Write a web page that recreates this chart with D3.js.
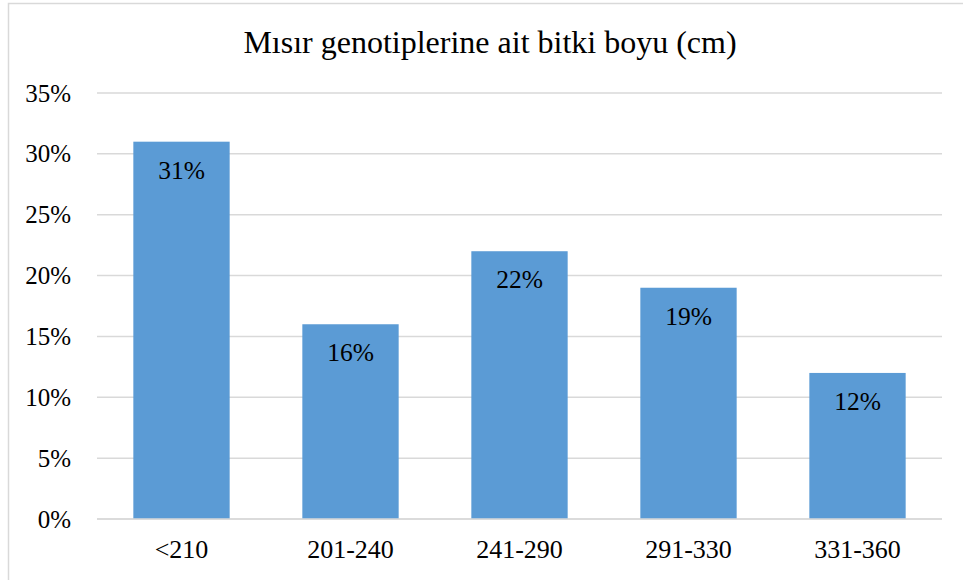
<!DOCTYPE html>
<html>
<head>
<meta charset="utf-8">
<script src="https://cdn.jsdelivr.net/npm/d3@7"></script>
<style>
  body { margin: 0; background: #fff; }
  svg text { font-family: "Liberation Serif", "Times New Roman", serif; fill: #000; }
</style>
</head>
<body>
<div id="chart"></div>
<script>
// chart values
var categories = ['<210', '201-240', '241-290', '291-330', '331-360'];
var values = [0.31, 0.16, 0.22, 0.19, 0.12];
var yTicks = [0, 0.05, 0.10, 0.15, 0.20, 0.25, 0.30, 0.35];
var title = 'Mısır genotiplerine ait bitki boyu (cm)';

var W = 963, H = 580;
var margin = {top: 93, right: 21, bottom: 61, left: 97};
var width = W - margin.left - margin.right,
    height = H - margin.top - margin.bottom;

var svg = d3.select('#chart').append('svg')
    .attr('width', W)
    .attr('height', H);

// outer frame of the chart area
svg.append('rect')
    .attr('x', 8.5).attr('y', 3.5)
    .attr('width', W + 20).attr('height', H + 20)
    .attr('fill', '#fff')
    .attr('stroke', '#d9d9d9')
    .attr('stroke-width', 1.5);

svg.append('text')
    .attr('x', 490)
    .attr('y', 53)
    .attr('text-anchor', 'middle')
    .style('font-size', '32px')
    .text(title);

var g = svg.append('g')
    .attr('transform', 'translate(' + margin.left + ',' + margin.top + ')');

var x = d3.scaleBand()
    .domain(categories)
    .range([0, width])
    .paddingInner(0.43)
    .paddingOuter(0.215);

var y = d3.scaleLinear()
    .domain([0, 0.35])
    .range([height, 0]);

// gridlines
g.selectAll('line.grid')
    .data(yTicks)
  .enter().append('line')
    .attr('class', 'grid')
    .attr('x1', 0).attr('x2', width)
    .attr('y1', function(d) { return y(d); })
    .attr('y2', function(d) { return y(d); })
    .attr('stroke', '#d9d9d9')
    .attr('stroke-width', 1.5);

// y axis labels
var yAxis = d3.axisLeft(y)
    .tickValues(yTicks)
    .tickFormat(d3.format('.0%'))
    .tickSize(0)
    .tickPadding(26);

g.append('g')
    .call(yAxis)
    .attr('font-family', null)
    .attr('font-size', 25)
    .call(function(s) { s.select('.domain').remove(); });

// bars
g.selectAll('rect.bar')
    .data(values)
  .enter().append('rect')
    .attr('class', 'bar')
    .attr('x', function(d, i) { return x(categories[i]); })
    .attr('y', function(d) { return y(d); })
    .attr('width', x.bandwidth())
    .attr('height', function(d) { return height - y(d); })
    .attr('fill', '#5b9bd5');

// redraw baseline over bars
g.append('line')
    .attr('x1', 0).attr('x2', width)
    .attr('y1', y(0)).attr('y2', y(0))
    .attr('stroke', '#d9d9d9')
    .attr('stroke-width', 1.5);

// data labels
g.selectAll('text.label')
    .data(values)
  .enter().append('text')
    .attr('class', 'label')
    .attr('x', function(d, i) { return x(categories[i]) + x.bandwidth() / 2; })
    .attr('y', function(d) { return y(d) + 37; })
    .attr('text-anchor', 'middle')
    .style('font-size', '25.5px')
    .text(function(d) { return d3.format('.0%')(d); });

// x axis labels
var xAxis = d3.axisBottom(x)
    .tickSize(0)
    .tickPadding(21);

g.append('g')
    .attr('transform', 'translate(0,' + height + ')')
    .call(xAxis)
    .attr('font-family', null)
    .attr('font-size', 26)
    .call(function(s) { s.select('.domain').remove(); });
</script>
</body>
</html>
